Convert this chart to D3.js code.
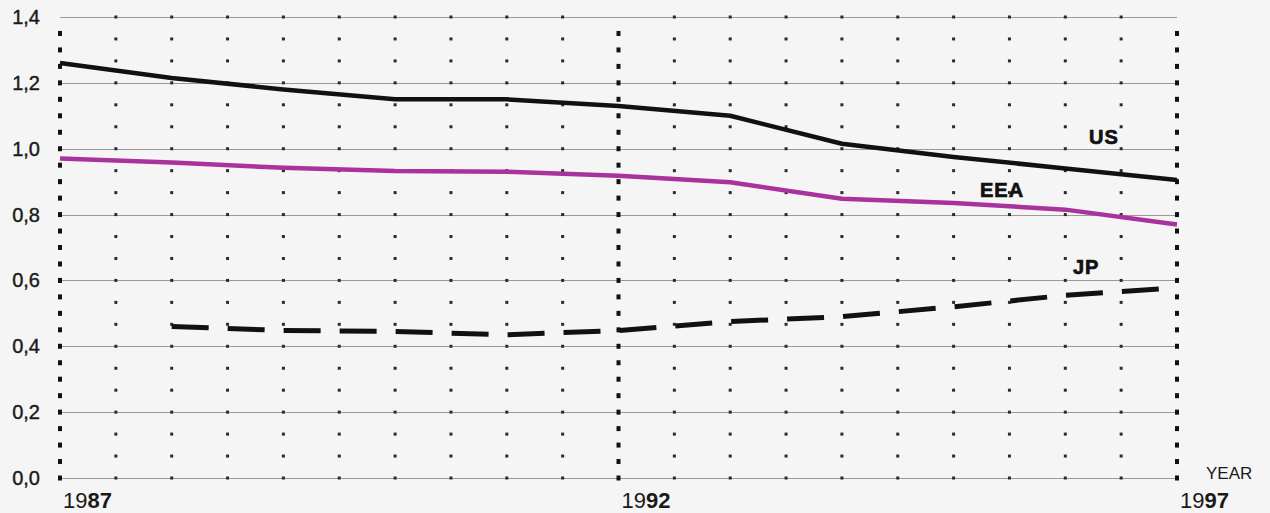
<!DOCTYPE html>
<html>
<head>
<meta charset="utf-8">
<script src="https://cdn.jsdelivr.net/npm/d3@7"></script>
<style>
  html, body { margin: 0; padding: 0; background: #f5f5f5; }
  svg { display: block; }
  text { font-family: "Liberation Sans", Arial, sans-serif; }
</style>
</head>
<body>
<svg id="chart" width="1270" height="513"></svg>
<script>
// ---- data ----
const years = [1987, 1988, 1989, 1990, 1991, 1992, 1993, 1994, 1995, 1996, 1997];
const usValues  = [1.26, 1.215, 1.18, 1.15, 1.15, 1.13, 1.10, 1.015, 0.975, 0.94, 0.905];
const eeaValues = [0.97, 0.958, 0.942, 0.932, 0.93, 0.918, 0.898, 0.848, 0.835, 0.815, 0.77];
const jpYears   = [1988, 1989, 1990, 1991, 1992, 1993, 1994, 1995, 1996, 1997];
const jpValues  = [0.46, 0.448, 0.445, 0.435, 0.448, 0.475, 0.49, 0.52, 0.555, 0.578];
const yTicks = [0.0, 0.2, 0.4, 0.6, 0.8, 1.0, 1.2, 1.4];
const majorYears = [1987, 1992, 1997];
const seriesLabels = ["US", "EEA", "JP"];

// ---- layout ----
const svg = d3.select("#chart");
const x = d3.scaleLinear().domain([1987, 1997]).range([60, 1177]);
const y = d3.scaleLinear().domain([0, 1.4]).range([478, 17]);

// gridlines
svg.append("g").selectAll("line").data(yTicks).join("line")
  .attr("x1", x(1987)).attr("x2", x(1997))
  .attr("y1", d => Math.round(y(d)) + 0.5).attr("y2", d => Math.round(y(d)) + 0.5)
  .attr("stroke", "#9a9a9a").attr("stroke-width", 1);

// small dotted columns (every half year, excluding major years)
const halfYears = d3.range(1987.5, 1997, 0.5).filter(v => !majorYears.includes(v));
const smallDotVals = d3.range(0, 22).map(k => k * 0.2 / 3);
const dotsG = svg.append("g");
halfYears.forEach(hy => {
  dotsG.selectAll(null).data(smallDotVals).join("rect")
    .attr("x", x(hy) - 1.5).attr("y", d => y(d) - 1.5)
    .attr("width", 3).attr("height", 3).attr("fill", "#2a2a2a");
});

// heavy dotted columns
const heavyDotVals = d3.range(0, 28).map(k => k * 0.05);
majorYears.forEach(my => {
  dotsG.selectAll(null).data(heavyDotVals).join("rect")
    .attr("x", x(my) - 2).attr("y", d => y(d) - 2.5)
    .attr("width", 4).attr("height", 5).attr("fill", "#111");
});

// lines
const line = d3.line().x(d => x(d[0])).y(d => y(d[1]));
svg.append("path").datum(years.map((yr, i) => [yr, eeaValues[i]]))
  .attr("d", line).attr("fill", "none").attr("stroke", "#a9329c")
  .attr("stroke-width", 4.5).attr("stroke-linejoin", "round");
svg.append("path").datum(years.map((yr, i) => [yr, usValues[i]]))
  .attr("d", line).attr("fill", "none").attr("stroke", "#111")
  .attr("stroke-width", 4.5).attr("stroke-linejoin", "round");
svg.append("path").datum(jpYears.map((yr, i) => [yr, jpValues[i]]))
  .attr("d", line).attr("fill", "none").attr("stroke", "#111")
  .attr("stroke-width", 5).attr("stroke-dasharray", "37 19");

// y tick labels
svg.append("g").selectAll("text").data(yTicks).join("text")
  .attr("x", 40).attr("y", d => y(d) + 7)
  .attr("text-anchor", "end").attr("font-size", 20).attr("fill", "#1a1a1a")
  .attr("stroke", "#1a1a1a").attr("stroke-width", 0.4)
  .text(d => d3.format(".1f")(d).replace(".", ","));

// x labels: "19" regular + "87" bold
const xl = svg.append("g").selectAll("text").data(majorYears).join("text")
  .attr("x", d => x(d) + 3).attr("y", 508)
  .attr("font-size", 22).attr("fill", "#1a1a1a");
xl.append("tspan").text(d => String(d).slice(0, 2));
xl.append("tspan").attr("font-weight", "bold").text(d => String(d).slice(2));

svg.append("text").attr("x", 1206).attr("y", 479)
  .attr("font-size", 17).attr("fill", "#1a1a1a").text("YEAR");

// series labels
const labelPos = [[1089, 144], [980, 197], [1073, 274]];
svg.append("g").selectAll("text").data(seriesLabels).join("text")
  .attr("x", (d, i) => labelPos[i][0]).attr("y", (d, i) => labelPos[i][1])
  .attr("font-size", 20).attr("font-weight", "bold").attr("fill", "#111")
  .attr("stroke", "#111").attr("stroke-width", 0.7)
  .attr("letter-spacing", 1)
  .text(d => d);
</script>
</body>
</html>
